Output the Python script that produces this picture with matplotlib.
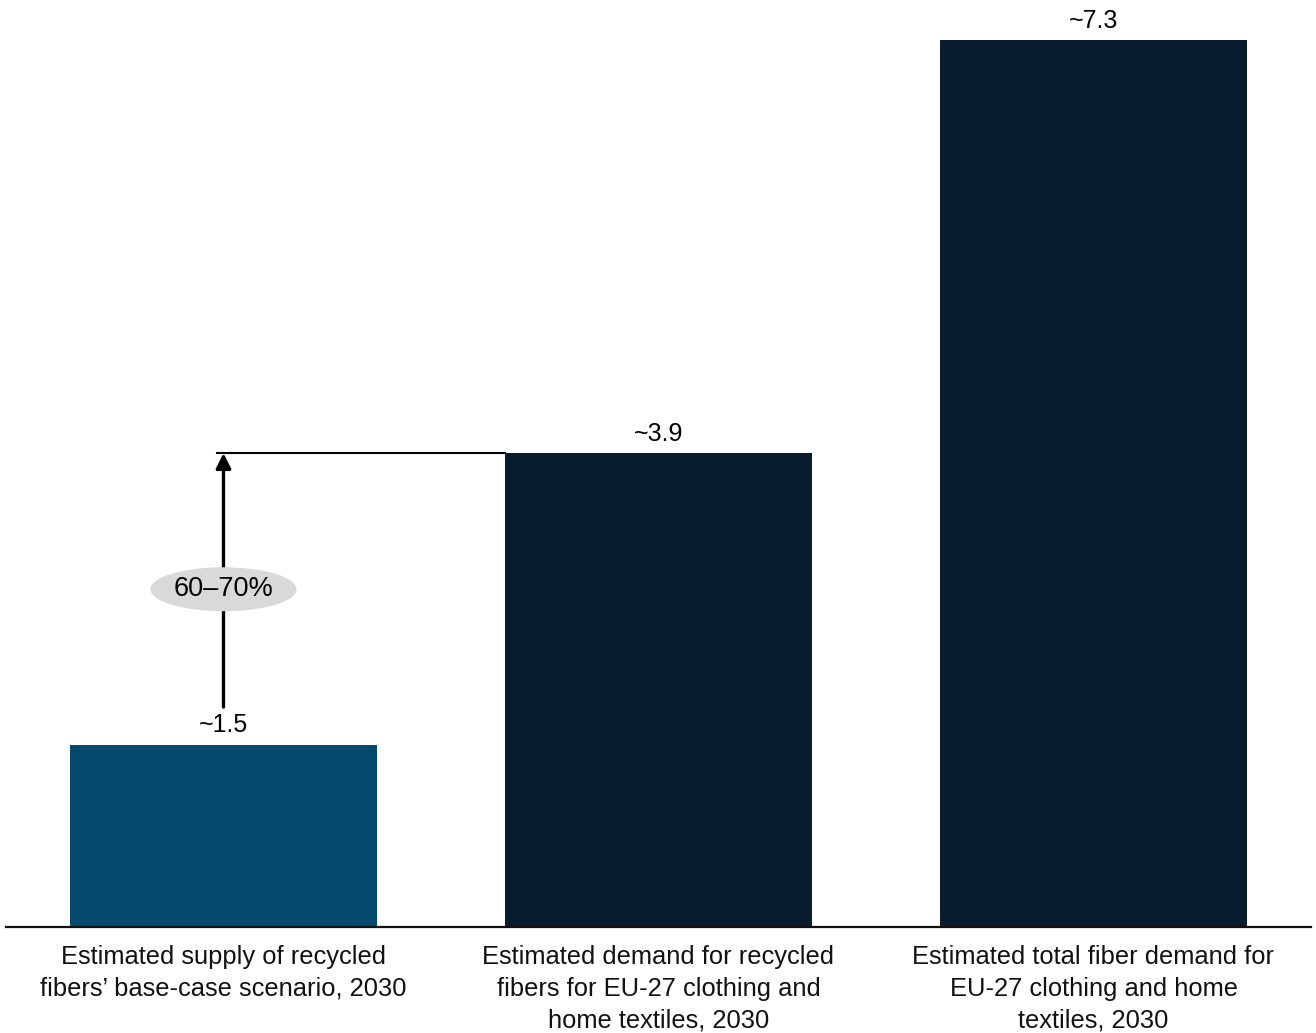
import matplotlib
matplotlib.use("Agg")
import matplotlib.pyplot as plt
from matplotlib.patches import Ellipse
import matplotlib.transforms as mtransforms

categories = [
    "Estimated supply of recycled\nfibers\u2019 base-case scenario, 2030",
    "Estimated demand for recycled\nfibers for EU-27 clothing and\nhome textiles, 2030",
    "Estimated total fiber demand for\nEU-27 clothing and home\ntextiles, 2030",
]
values = [1.5, 3.9, 7.3]
value_labels = ["~1.5", "~3.9", "~7.3"]
gap_label = "60\u201370%"
colors = ["#05496C", "#071D2D", "#071D2D"]

plt.rcParams['font.family'] = ['Liberation Sans', 'DejaVu Sans']

fig = plt.figure(figsize=(13.16, 10.33), dpi=100)
ax = fig.add_axes([6/1316, 106/1033, 1305/1316, 927/1033])
x = list(range(len(values)))
width = 0.708
ax.bar(x, values, width=width, color=colors, zorder=2)
ax.set_xlim(-0.5, 2.5)
ax.set_ylim(0, 7.63)

for xi, v, lab in zip(x, values, value_labels):
    ax.annotate(lab, (xi, v), xytext=(0, 14.0), textcoords="offset points",
                ha="center", va="center", fontsize=18, color="#000000")

trans = mtransforms.blended_transform_factory(ax.transData, ax.transAxes)
for xi, c in zip(x, categories):
    ax.text(xi, -0.019, c, transform=trans, ha="center", va="top",
            fontsize=18.4, linespacing=1.42, color="#111111")

# Gap arrow annotation
ax.plot([-0.014, 1 - width / 2], [values[1], values[1]], color="black", lw=1.5, zorder=3)
ax.annotate("", xy=(0, values[1]), xytext=(0, 1.81),
            arrowprops=dict(arrowstyle="-|>,head_length=0.9,head_width=0.45",
                            color="black", lw=2.4, shrinkA=0, shrinkB=0), zorder=3)
ell = Ellipse((0, 2.78), 0.336, 0.362, facecolor="#D9D9D9", edgecolor="none", zorder=4)
ax.add_patch(ell)
ax.text(0, 2.78, gap_label, ha="center", va="center", fontsize=19.5, color="#000000", zorder=5)

for s in ["top", "right", "left"]:
    ax.spines[s].set_visible(False)
ax.spines["bottom"].set_linewidth(1.6)
ax.spines["bottom"].set_color("#111111")
ax.spines["bottom"].set_zorder(3)
ax.set_xticks([])
ax.set_yticks([])

fig.savefig("out.png", dpi=100)
